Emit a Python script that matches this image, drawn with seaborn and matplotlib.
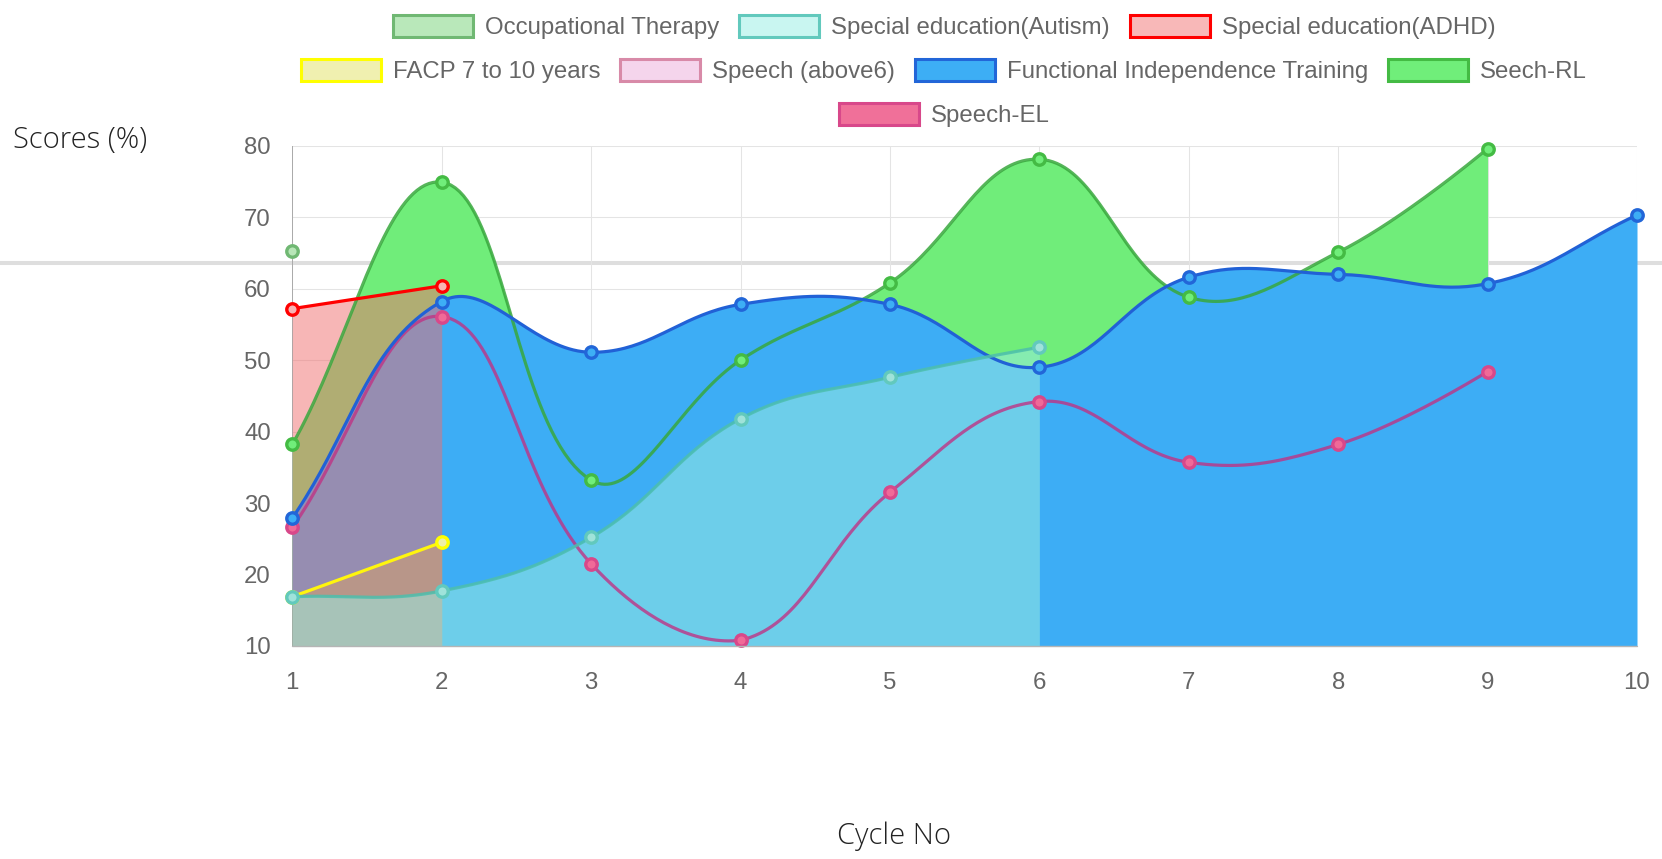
import numpy as np
import matplotlib.pyplot as plt
import seaborn as sns
from matplotlib.patches import Patch
from matplotlib.lines import Line2D

nan = np.nan

# ---- data ----
cycles = [1, 2, 3, 4, 5, 6, 7, 8, 9, 10]
occupational_therapy = [65.3, nan, nan, nan, nan, nan, nan, nan, nan, nan]
special_autism = [16.9, 17.7, 25.2, 41.8, 47.6, 51.8, nan, nan, nan, nan]
special_adhd = [57.2, 60.4, nan, nan, nan, nan, nan, nan, nan, nan]
facp_7_10 = [16.9, 24.5, nan, nan, nan, nan, nan, nan, nan, nan]
speech_above6 = [nan, nan, nan, nan, nan, nan, nan, nan, nan, nan]
functional_training = [27.9, 58.2, 51.1, 57.8, 57.8, 49.0, 61.6, 62.0, 60.7, 70.3]
seech_rl = [38.2, 74.9, 33.2, 50.0, 60.8, 78.1, 58.8, 65.1, 79.6, nan]
speech_el = [26.6, 56.1, 21.5, 10.8, 31.5, 44.2, 35.7, 38.2, 48.4, nan]

y_ticks = [10, 20, 30, 40, 50, 60, 70, 80]

# name, values, fill (rgba), line (rgba), marker fill, legend fill, legend edge
# listed top -> bottom of the drawing stack (first dataset is drawn last)
datasets = [
    ("Occupational Therapy", occupational_therapy, (0.72, 0.90, 0.72, 0.5), (0.40, 0.72, 0.42, 0.75), "#b8e6b8", "#b9e8ba", "#70b873"),
    ("Special education(Autism)", special_autism, (0.60, 0.925, 0.886, 0.53), (0.30, 0.75, 0.68, 0.85), "#9fe3da", "#c9f6f1", "#62c9bd"),
    ("Special education(ADHD)", special_adhd, (0.94, 0.43, 0.43, 0.5), (1.0, 0.0, 0.0, 1.0), "#f7b3b3", "#f8b8b8", "#ff0000"),
    ("FACP 7 to 10 years", facp_7_10, (0.86, 0.86, 0.24, 0.43), (1.0, 0.96, 0.05, 1.0), "#eef0a8", "#f0f0b0", "#ffff00"),
    ("Speech (above6)", speech_above6, (0.96, 0.83, 0.92, 0.3), (0.85, 0.54, 0.66, 1.0), "#f5d5ec", "#f5d5ec", "#d88aa8"),
    ("Functional Independence Training", functional_training, (0.24, 0.68, 0.96, 1.0), (0.13, 0.38, 0.84, 1.0), "#3daef5", "#3daef5", "#2266d8"),
    ("Seech-RL", seech_rl, (0.44, 0.93, 0.48, 1.0), (0.22, 0.66, 0.24, 0.85), "#70ee7a", "#70ee7a", "#44bb44"),
    ("Speech-EL", speech_el, (0.94, 0.44, 0.60, 1.0), (0.75, 0.20, 0.52, 0.8), "#f06a98", "#f07099", "#d8488a"),
]

# pixel scale of one unit on each axis, used for the Chart.js style spline
X_PX = 149.4
Y_PX = 7.147
TENSION = 0.4


def chartjs_curve(xs, ys, steps=40):
    x = np.asarray(xs, float) * X_PX
    y = np.asarray(ys, float) * Y_PX
    n = len(x)
    valid = np.where(~np.isnan(y))[0]
    cps = {}
    for i in valid:
        p = i - 1 if i > 0 else i
        a = i + 1 if i < n - 1 else i
        d01 = np.hypot(x[i] - x[p], y[i] - y[p])
        d12 = np.hypot(x[a] - x[i], y[a] - y[i])
        tot = d01 + d12
        if np.isfinite(tot) and tot > 0:
            s01, s12 = d01 / tot, d12 / tot
        else:
            s01, s12 = 0.0, 0.0
        fa, fb = TENSION * s01, TENSION * s12
        dx = (x[a] - x[p]) if np.isfinite(y[a] - y[p]) else 0.0
        dy = (y[a] - y[p]) if np.isfinite(y[a] - y[p]) else 0.0
        c_prev = [x[i] - fa * dx, np.clip(y[i] - fa * dy, 10 * Y_PX, 80 * Y_PX)]
        c_next = [x[i] + fb * dx, np.clip(y[i] + fb * dy, 10 * Y_PX, 80 * Y_PX)]
        cps[i] = (c_prev, c_next)
    out_x, out_y = [], []
    t = np.linspace(0, 1, steps)
    for i in valid:
        if i + 1 not in cps:
            continue
        p0 = np.array([x[i], y[i]])
        p1 = np.array(cps[i][1])
        p2 = np.array(cps[i + 1][0])
        p3 = np.array([x[i + 1], y[i + 1]])
        b = ((1 - t) ** 3)[:, None] * p0 + (3 * (1 - t) ** 2 * t)[:, None] * p1 \
            + (3 * (1 - t) * t ** 2)[:, None] * p2 + (t ** 3)[:, None] * p3
        out_x.extend(b[:, 0] / X_PX)
        out_y.extend(b[:, 1] / Y_PX)
    return np.array(out_x), np.array(out_y)


sns.set_theme(style="white")
plt.rcParams['font.family'] = ['Liberation Sans', 'DejaVu Sans']

W, H = 1662, 859
fig = plt.figure(figsize=(W / 100, H / 100), dpi=100)
fig.patch.set_facecolor("white")

# light rule running across the page behind the chart
fig.add_artist(Line2D([0, 1], [1 - 263 / H, 1 - 263 / H], transform=fig.transFigure,
                      color="#dedede", lw=2.9, zorder=-5))

ax = fig.add_axes([292.3 / W, 1 - 646 / H, (1637 - 292.3) / W, (646 - 145.7) / H])
ax.patch.set_visible(False)

# fills first (bottom dataset first), then lines and points on top
order = list(reversed(datasets))
for k, (name, vals, fill, line, mfill, lfill, ledge) in enumerate(order):
    cx, cy = chartjs_curve(cycles, vals)
    if len(cx):
        ax.fill_between(cx, cy, 0, color=fill[:3], alpha=fill[3], lw=0, zorder=1 + k * 0.01)

for k, (name, vals, fill, line, mfill, lfill, ledge) in enumerate(order):
    cx, cy = chartjs_curve(cycles, vals)
    z = 3 + k
    if len(cx):
        sns.lineplot(x=cx, y=cy, sort=False, estimator=None, color=line[:3], alpha=line[3],
                     lw=2.3, ax=ax, zorder=z)
    pts = [(c, v) for c, v in zip(cycles, vals) if not np.isnan(v)]
    if pts:
        sns.scatterplot(x=[p[0] for p in pts], y=[p[1] for p in pts], s=68, color=mfill,
                        edgecolor=ledge, linewidth=2.4, ax=ax, zorder=z + 0.5, clip_on=False)

ax.set_xlim(1, 10)
ax.set_ylim(10, 80)
ax.set_xticks(cycles)
ax.set_yticks(y_ticks)
ax.set_xlabel("")
ax.set_ylabel("")
ax.grid(True, color="#e4e4e4", lw=0.75)
ax.set_axisbelow(True)
for s in ax.spines.values():
    s.set_visible(False)
ax.tick_params(axis="both", length=14.4, width=0.75, color="#e2e2e2",
               labelsize=17.3, labelcolor="#666666")
ax.tick_params(axis="x", pad=4.3)
ax.tick_params(axis="y", pad=1)
ax.xaxis.get_major_ticks()[0].tick1line.set_color("#9a9a9a")
ax.axvline(1, color="#9a9a9a", lw=1.1, zorder=0.8)
ax.axhline(10, color="#b5b5b5", lw=1.0, zorder=30, clip_on=False)

# legend rows, centred like the Chart.js legend
rows = [[0, 1, 2], [3, 4, 5, 6], [7]]
row_y = [27, 71, 115]
for r, yy in zip(rows, row_y):
    handles = [Patch(facecolor=datasets[i][5], edgecolor=datasets[i][6], lw=2.2) for i in r]
    labels = [datasets[i][0] for i in r]
    leg = fig.legend(handles, labels, loc="center", bbox_to_anchor=(944 / W, 1 - yy / H),
                     ncol=len(r), frameon=False, fontsize=17.3, handlelength=3.33,
                     handleheight=1.0, handletextpad=0.5, columnspacing=0.83, borderpad=0)
    for t in leg.get_texts():
        t.set_color("#666666")

fig.text(12.7 / W, 1 - 140 / H, "Scores (%)", ha="left", va="center", fontsize=21,
         family=["Open Sans", "DejaVu Sans"], fontweight="light", color="#222222")
fig.text(894 / W, 1 - 836 / H, "Cycle No", ha="center", va="center", fontsize=21,
         family=["Open Sans", "DejaVu Sans"], fontweight="light", color="#222222")

fig.savefig("out.png", dpi=100)
